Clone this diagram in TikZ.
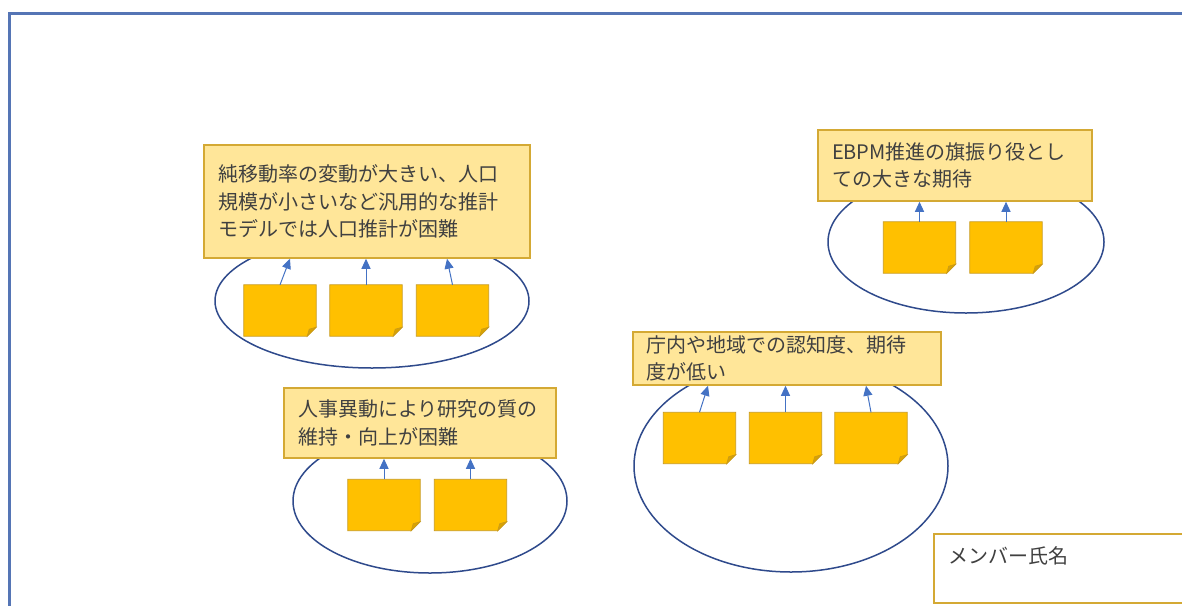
\documentclass[tikz,border=0pt]{standalone}
\usepackage{fontspec}
\newfontfamily\jp{Noto Sans CJK JP}
\usetikzlibrary{shapes.geometric,arrows.meta}
\definecolor{framec}{HTML}{5575B5}
\definecolor{ellc}{HTML}{2F4A8C}
\definecolor{boxfill}{HTML}{FFE699}
\definecolor{boxdraw}{HTML}{D4A934}
\definecolor{stfill}{HTML}{FFC000}
\definecolor{stdraw}{HTML}{C99A1A}
\definecolor{stfold}{HTML}{D9A300}
\definecolor{arrc}{HTML}{4472C4}
\definecolor{txtc}{HTML}{404040}
\newcommand\stickynote[2]{%
  \node[stk] (#1) at #2 {};
  \filldraw[fill=stfill, draw=stdraw, line width=0.8pt] (#1.north west) -- (#1.north east) -- ([yshift=9pt]#1.south east) -- ([xshift=-9pt]#1.south east) -- (#1.south west) -- cycle;
  \filldraw[fill=stfold, draw=stdraw, line width=0.6pt] ([yshift=9pt]#1.south east) -- ([xshift=-9pt]#1.south east) -- ([xshift=-7pt,yshift=7pt]#1.south east) -- cycle;
}
\begin{document}
\begin{tikzpicture}[x=1pt,y=-1pt,
  every node/.style={font=\jp\fontsize{20}{27.5}\selectfont, text=txtc},
  issue/.style={draw=boxdraw, line width=1.5pt, fill=boxfill, rectangle, align=left, inner xsep=14pt, inner ysep=0pt},
  grp/.style={ellipse, draw=ellc, line width=1.5pt, inner sep=0pt},
  stk/.style={rectangle, minimum width=72pt, minimum height=51pt, inner sep=0pt},
  arr/.style={draw=arrc, line width=1pt, -{Triangle[length=10pt,width=9pt]}},
]
\useasboundingbox (0,0) rectangle (1182,605);
\fill[white] (0,0) rectangle (1182,605);
\clip (0,0) rectangle (1182,605);
\draw[framec, line width=3pt] (9,620) -- (9,13) -- (1200,13);

% groups (ellipses)
\node[grp, minimum width=314pt, minimum height=134pt] (e1) at (372,301) {};
\node[grp, minimum width=274pt, minimum height=144pt] (e2) at (430,501) {};
\node[grp, minimum width=314pt, minimum height=212pt] (e3) at (791,466) {};
\node[grp, minimum width=276pt, minimum height=142pt] (e4) at (966,242) {};

% sticky notes
\stickynote{s11}{(280,310.5)}
\stickynote{s12}{(366,310.5)}
\stickynote{s13}{(452.5,310.5)}
\stickynote{s21}{(384,505)}
\stickynote{s22}{(470.5,505)}
\stickynote{s31}{(699.5,438)}
\stickynote{s32}{(785.5,438)}
\stickynote{s33}{(871,438)}
\stickynote{s41}{(919.5,247.5)}
\stickynote{s42}{(1006,247.5)}

% issue boxes
\node[issue, text width=298pt, minimum height=113pt] (b1) at (367,201.5)
  {純移動率の変動が大きい、人口\\規模が小さいなど汎用的な推計\\モデルでは人口推計が困難};
\node[issue, text width=244pt, minimum height=70pt] (b2) at (420,423)
  {人事異動により研究の質の\\維持・向上が困難};
\node[issue, text width=282pt, inner xsep=13pt, minimum height=53pt] (b3) at (787,358.5)
  {庁内や地域での認知度、期待\\度が低い};
\node[issue, text width=246pt, minimum height=71pt] (b4) at (955,165.5)
  {EBPM推進の旗振り役とし\\ての大きな期待};

% member box
\node[draw=boxdraw, line width=1.8pt, fill=white, anchor=north west, align=left,
      text width=230pt, inner xsep=15pt, inner ysep=0pt, minimum height=69pt] (m) at (933,533)
  {メンバー氏名\\\mbox{}};

% arrows
\draw[arr] (s11.north) -- ([xshift=-77pt]b1.south);
\draw[arr] (s12.north) -- (s12.north |- b1.south);
\draw[arr] (s13.north) -- ([xshift=80pt]b1.south);
\draw[arr] (s21.north) -- (s21.north |- b2.south);
\draw[arr] (s22.north) -- (s22.north |- b2.south);
\draw[arr] (s31.north) -- ([xshift=-79pt]b3.south);
\draw[arr] (s32.north) -- (s32.north |- b3.south);
\draw[arr] (s33.north) -- ([xshift=79pt]b3.south);
\draw[arr] (s41.north) -- (s41.north |- b4.south);
\draw[arr] (s42.north) -- (s42.north |- b4.south);
\end{tikzpicture}
\end{document}
